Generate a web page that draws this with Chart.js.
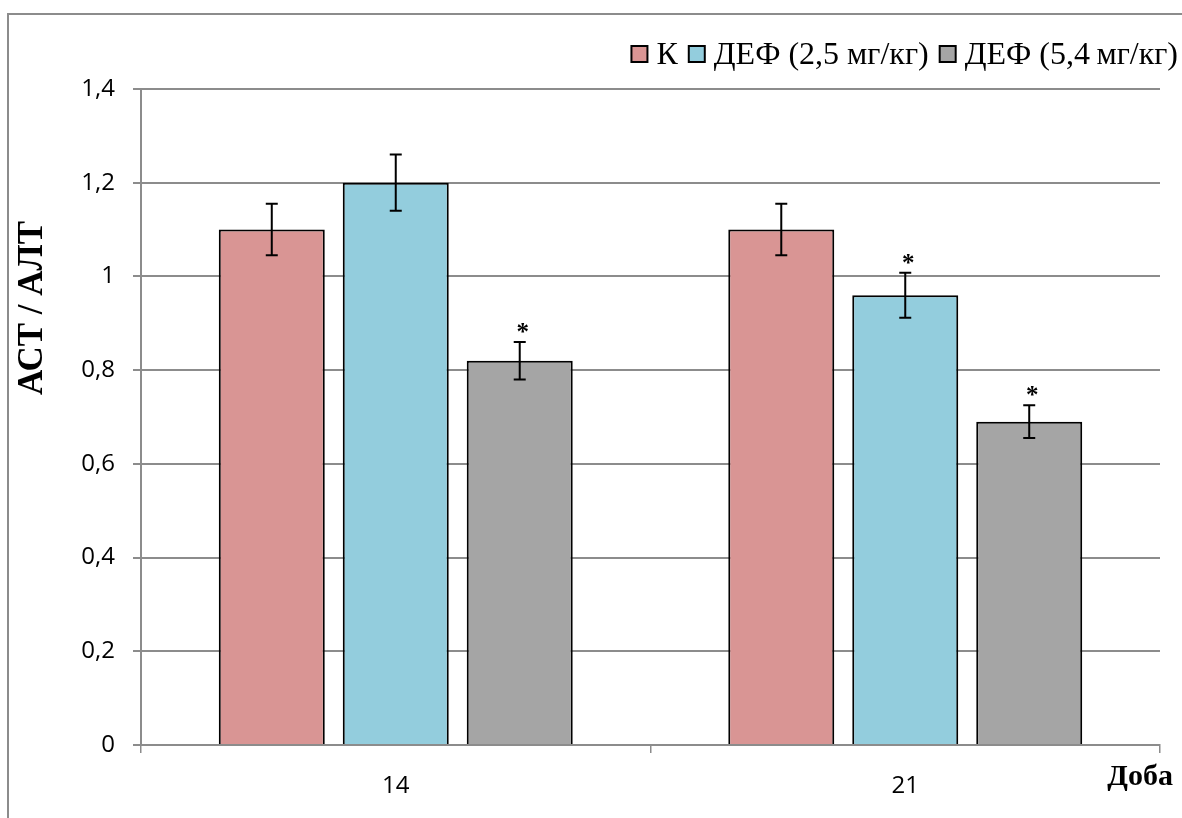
<!DOCTYPE html>
<html>
<head>
<meta charset="utf-8">
<script src="https://cdn.jsdelivr.net/npm/chart.js@4.4.1/dist/chart.umd.min.js"></script>
<style>
  html, body { margin: 0; padding: 0; background: #ffffff; }
  #wrap { width: 1182px; height: 818px; position: relative; }
</style>
</head>
<body>
<div id="wrap"><canvas id="chart" width="1182" height="818"></canvas></div>
<script>
// Days of observation
const days = ['14', '21'];

// Series names
const seriesNames = ['К', 'ДЕФ (2,5 мг/кг)', 'ДЕФ (5,4\u2009мг/кг)'];

// Mean AST/ALT ratio per day
const controlValues = [1.1, 1.1];
const def25Values = [1.2, 0.96];
const def54Values = [0.82, 0.69];

// Standard errors
const controlErrors = [0.055, 0.055];
const def25Errors = [0.06, 0.048];
const def54Errors = [0.04, 0.035];

// Significant difference from control (p < 0.05)
const controlSignif = [false, false];
const def25Signif = [false, true];
const def54Signif = [true, true];

// Y axis ticks
const yTicks = [0, 0.2, 0.4, 0.6, 0.8, 1, 1.2, 1.4];

const colors = ['#d99594', '#93cddd', '#a5a5a5'];
const gridColor = '#8c8c8c';
const tickFont = () => ({ family: '"Open Sans", sans-serif', size: 24, weight: 'normal', lineHeight: 1.2 });

Chart.defaults.color = '#000';

const fmt = v => String(Math.round(v * 10) / 10).replace('.', ',');

const errorBarsPlugin = {
  id: 'errorBars',
  afterDatasetsDraw(chart) {
    const ctx = chart.ctx;
    const y = chart.scales.y;
    chart.data.datasets.forEach((ds, di) => {
      const meta = chart.getDatasetMeta(di);
      meta.data.forEach((bar, i) => {
        const v = ds.data[i];
        const e = ds.errors[i];
        const yTop = y.getPixelForValue(v + e);
        const yBot = y.getPixelForValue(v - e);
        ctx.save();
        ctx.strokeStyle = '#000';
        ctx.lineWidth = 2;
        ctx.beginPath();
        ctx.moveTo(bar.x, yTop); ctx.lineTo(bar.x, yBot);
        ctx.moveTo(bar.x - 6, yTop); ctx.lineTo(bar.x + 6, yTop);
        ctx.moveTo(bar.x - 6, yBot); ctx.lineTo(bar.x + 6, yBot);
        ctx.stroke();
        if (ds.signif[i]) {
          ctx.fillStyle = '#000';
          ctx.font = 'bold 25px "Liberation Serif"';
          ctx.textAlign = 'center';
          ctx.textBaseline = 'alphabetic';
          ctx.fillText('*', bar.x + 3, yTop - 2);
        }
        ctx.restore();
      });
    });
  }
};

const decorPlugin = {
  id: 'decor',
  beforeDraw(chart) {
    const ctx = chart.ctx;
    ctx.save();
    ctx.fillStyle = '#fff';
    ctx.fillRect(0, 0, chart.width, chart.height);
    // outer frame
    ctx.strokeStyle = gridColor;
    ctx.lineWidth = 2;
    ctx.beginPath();
    ctx.moveTo(8, chart.height);
    ctx.lineTo(8, 14);
    ctx.lineTo(chart.width, 14);
    ctx.stroke();
    ctx.restore();
  },
  afterDraw(chart) {
    const ctx = chart.ctx;
    ctx.save();
    // axis titles
    ctx.fillStyle = '#000';
    ctx.font = 'bold 35px "Liberation Serif"';
    ctx.textAlign = 'center';
    ctx.textBaseline = 'middle';
    ctx.translate(33, 308);
    ctx.rotate(-Math.PI / 2);
    ctx.fillText('АСТ / АЛТ', 0, 0);
    ctx.restore();

    ctx.save();
    ctx.fillStyle = '#000';
    ctx.font = 'bold 30px "Liberation Serif"';
    ctx.textAlign = 'right';
    ctx.textBaseline = 'alphabetic';
    ctx.fillText('Доба', 1173, 785);
    ctx.restore();

    // legend, right-anchored
    ctx.save();
    ctx.font = '32px "Liberation Serif"';
    ctx.textBaseline = 'alphabetic';
    ctx.textAlign = 'left';
    const box = 16, gapText = 9, gapItem = 11;
    const items = chart.data.datasets.map(d => ({ label: d.label, color: d.backgroundColor, w: ctx.measureText(d.label).width }));
    let total = 0;
    items.forEach((it, i) => { total += box + gapText + it.w + (i < items.length - 1 ? gapItem : 0); });
    let x = 1178 - total;
    items.forEach(it => {
      ctx.fillStyle = it.color;
      ctx.fillRect(x, 46, box, box);
      ctx.strokeStyle = '#000';
      ctx.lineWidth = 2;
      ctx.strokeRect(x, 46, box, box);
      x += box + gapText;
      ctx.fillStyle = '#000';
      ctx.fillText(it.label, x, 64);
      x += it.w + gapItem;
    });
    ctx.restore();
  }
};

const makeSet = (i, data, errors, signif) => ({
  label: seriesNames[i],
  data: data,
  errors: errors,
  signif: signif,
  backgroundColor: colors[i],
  borderColor: '#000',
  borderWidth: 2,
  categoryPercentage: 0.73,
  barPercentage: 0.855
});

new Chart(document.getElementById('chart'), {
  type: 'bar',
  data: {
    labels: days,
    datasets: [
      makeSet(0, controlValues, controlErrors, controlSignif),
      makeSet(1, def25Values, def25Errors, def25Signif),
      makeSet(2, def54Values, def54Errors, def54Signif)
    ]
  },
  options: {
    responsive: false,
    animation: false,
    devicePixelRatio: 1,
    layout: { padding: { top: 89, right: 22, left: 0, bottom: 0 } },
    plugins: { legend: { display: false }, tooltip: { enabled: false } },
    scales: {
      x: {
        grid: { display: true, offset: true, drawOnChartArea: false, color: gridColor, lineWidth: 1.5, tickLength: 8 },
        border: { display: true, color: gridColor, width: 2 },
        ticks: { color: '#000', font: tickFont, padding: 19 },
        afterFit(scale) { scale.height = 73; }
      },
      y: {
        min: 0,
        max: 1.4,
        afterBuildTicks(scale) { scale.ticks = yTicks.map(v => ({ value: v })); },
        grid: { color: gridColor, lineWidth: 2, tickLength: 8 },
        border: { display: true, color: gridColor, width: 2 },
        ticks: { color: '#000', font: tickFont, padding: 18, callback: v => fmt(v) },
        afterFit(scale) { scale.width = 141; }
      }
    }
  },
  plugins: [decorPlugin, errorBarsPlugin]
});
</script>
</body>
</html>
